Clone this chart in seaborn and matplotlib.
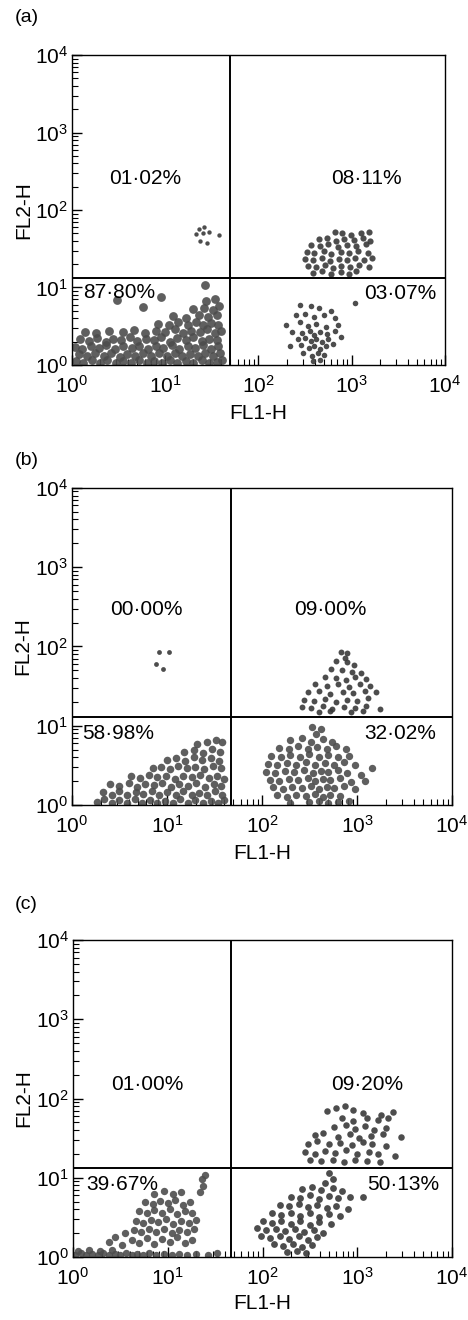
import pandas as pd
import seaborn as sns
import matplotlib.pyplot as plt
import numpy as np

# ==========================================
# 1. DATA (log10 units = decades)
# ==========================================
panel_tags = ['(a)', '(b)', '(c)']
x_label = 'FL1-H'
y_label = 'FL2-H'

# quadrant gates (FL1, FL2)
gate_fl1 = [49.0, 47.0, 47.0]
gate_fl2 = [13.3, 12.9, 13.2]

# quadrant percentages: upper-left, upper-right, lower-left, lower-right
quad_pct = [
    ['01·02%', '08·11%', '87·80%', '03·07%'],
    ['00·00%', '09·00%', '58·98%', '32·02%'],
    ['01·00%', '09·20%', '39·67%', '50·13%'],
]

# ---- panel (a) ----
a_ll = [
    (0.04, 0.05), (0.12, 0.02), (0.21, 0.07), (0.30, 0.03), (0.38, 0.06), (0.47, 0.02), (0.55, 0.05),
    (0.63, 0.03), (0.72, 0.07), (0.80, 0.02), (0.88, 0.05), (0.97, 0.03), (1.05, 0.06), (1.13, 0.02),
    (1.22, 0.05), (1.30, 0.03), (1.39, 0.06), (1.47, 0.02), (1.55, 0.04), (1.61, 0.07),
    (0.07, 0.14), (0.16, 0.11), (0.25, 0.16), (0.34, 0.12), (0.42, 0.15), (0.51, 0.10), (0.59, 0.14),
    (0.68, 0.12), (0.76, 0.16), (0.85, 0.11), (0.93, 0.15), (1.02, 0.12), (1.10, 0.16), (1.18, 0.11),
    (1.27, 0.14), (1.35, 0.12), (1.43, 0.16), (1.51, 0.11), (1.59, 0.15),
    (0.03, 0.23), (0.11, 0.21), (0.20, 0.25), (0.29, 0.22), (0.37, 0.26), (0.46, 0.21), (0.55, 0.24),
    (0.64, 0.22), (0.72, 0.25), (0.81, 0.20), (0.90, 0.24), (0.98, 0.22), (1.07, 0.26), (1.15, 0.21),
    (1.24, 0.25), (1.32, 0.22), (1.41, 0.26), (1.49, 0.21), (1.57, 0.24),
    (0.09, 0.33), (0.18, 0.31), (0.27, 0.35), (0.36, 0.30), (0.44, 0.34), (0.53, 0.32), (0.62, 0.36),
    (0.70, 0.31), (0.79, 0.34), (0.88, 0.32), (0.96, 0.36), (1.05, 0.30), (1.13, 0.35), (1.22, 0.32),
    (1.30, 0.36), (1.39, 0.31), (1.47, 0.34), (1.56, 0.32),
    (0.14, 0.43), (0.26, 0.41), (0.40, 0.44), (0.55, 0.42), (0.66, 0.45), (0.78, 0.41), (0.90, 0.44),
    (1.00, 0.42), (1.10, 0.46), (1.19, 0.41), (1.28, 0.44), (1.37, 0.42), (1.45, 0.46), (1.53, 0.41),
    (1.60, 0.44),
    (0.92, 0.53), (1.04, 0.51), (1.14, 0.55), (1.24, 0.52), (1.33, 0.56), (1.41, 0.51), (1.49, 0.54),
    (1.57, 0.52),
    (1.08, 0.63), (1.22, 0.61), (1.36, 0.65), (1.46, 0.62), (1.55, 0.64),
    (1.30, 0.72), (1.42, 0.74), (1.51, 0.71), (1.58, 0.76),
    (1.44, 0.83), (1.53, 0.85),
    (0.48, 0.84), (0.76, 0.75), (0.95, 0.88), (1.43, 1.03),
]
a_ul = [(1.36, 1.76), (1.42, 1.78), (1.33, 1.69), (1.40, 1.70), (1.47, 1.72), (1.58, 1.68),
        (1.37, 1.60), (1.45, 1.58)]
a_ur = [
    (2.82, 1.72), (2.90, 1.70), (2.99, 1.68), (3.10, 1.70), (3.19, 1.71),
    (2.65, 1.62), (2.74, 1.64), (2.83, 1.60), (2.92, 1.63), (3.02, 1.61), (3.12, 1.64), (3.20, 1.60),
    (2.56, 1.55), (2.66, 1.53), (2.75, 1.56), (2.85, 1.52), (2.95, 1.55), (3.05, 1.53), (3.15, 1.56),
    (2.52, 1.46), (2.60, 1.44), (2.70, 1.47), (2.78, 1.43), (2.88, 1.46), (2.97, 1.44), (3.07, 1.47),
    (3.17, 1.45),
    (2.50, 1.37), (2.58, 1.35), (2.68, 1.38), (2.77, 1.34), (2.86, 1.37), (2.95, 1.35), (3.04, 1.38),
    (3.13, 1.36), (3.22, 1.38),
    (2.53, 1.28), (2.62, 1.26), (2.71, 1.29), (2.80, 1.25), (2.89, 1.28), (2.98, 1.26), (3.08, 1.29),
    (3.18, 1.27),
    (2.58, 1.19), (2.68, 1.21), (2.78, 1.18), (2.88, 1.20), (2.97, 1.17), (3.05, 1.21),
]
a_lr = [
    (2.45, 0.78), (2.56, 0.76), (2.65, 0.74), (2.78, 0.70), (3.03, 0.80),
    (2.40, 0.64), (2.50, 0.66), (2.60, 0.62), (2.70, 0.65), (2.82, 0.60),
    (2.30, 0.52), (2.44, 0.55), (2.53, 0.50), (2.62, 0.53), (2.72, 0.49), (2.85, 0.52),
    (2.36, 0.43), (2.47, 0.41), (2.55, 0.44), (2.60, 0.39), (2.66, 0.42), (2.74, 0.40), (2.82, 0.44),
    (2.42, 0.33), (2.50, 0.35), (2.56, 0.31), (2.62, 0.34), (2.68, 0.30), (2.75, 0.33), (2.88, 0.36),
    (2.34, 0.24), (2.46, 0.26), (2.54, 0.22), (2.60, 0.25), (2.66, 0.21), (2.72, 0.24), (2.80, 0.27),
    (2.48, 0.15), (2.57, 0.12), (2.64, 0.16), (2.70, 0.13), (2.58, 0.05), (2.66, 0.07),
]

# ---- panel (b) ----
b_ll = [
    (0.26, 0.04), (0.34, 0.08), (0.42, 0.03), (0.50, 0.06), (0.58, 0.02), (0.66, 0.07), (0.74, 0.03),
    (0.82, 0.06), (0.90, 0.02), (0.98, 0.05), (1.06, 0.03), (1.14, 0.07), (1.22, 0.02), (1.30, 0.06),
    (1.38, 0.03), (1.46, 0.05), (1.54, 0.02), (1.60, 0.06),
    (0.33, 0.16), (0.42, 0.13), (0.50, 0.17), (0.58, 0.12), (0.67, 0.16), (0.75, 0.14), (0.84, 0.17),
    (0.92, 0.12), (1.00, 0.16), (1.09, 0.13), (1.17, 0.17), (1.26, 0.12), (1.34, 0.15), (1.42, 0.13),
    (1.51, 0.17), (1.58, 0.12),
    (0.40, 0.26), (0.50, 0.24), (0.60, 0.28), (0.68, 0.23), (0.77, 0.27), (0.86, 0.25), (0.95, 0.28),
    (1.04, 0.23), (1.13, 0.27), (1.22, 0.24), (1.31, 0.28), (1.40, 0.23), (1.49, 0.26), (1.57, 0.24),
    (0.62, 0.36), (0.72, 0.34), (0.81, 0.38), (0.90, 0.35), (0.99, 0.37), (1.08, 0.33), (1.17, 0.37),
    (1.26, 0.35), (1.35, 0.38), (1.44, 0.34), (1.53, 0.36), (1.60, 0.33),
    (0.85, 0.46), (0.94, 0.48), (1.03, 0.45), (1.12, 0.49), (1.21, 0.46), (1.30, 0.48), (1.39, 0.45),
    (1.48, 0.49), (1.57, 0.46),
    (1.00, 0.57), (1.10, 0.59), (1.19, 0.56), (1.28, 0.60), (1.37, 0.57), (1.46, 0.59), (1.55, 0.56),
    (1.18, 0.67), (1.28, 0.69), (1.38, 0.66), (1.47, 0.70), (1.56, 0.67),
    (1.32, 0.77), (1.42, 0.79), (1.52, 0.82), (1.58, 0.80),
]
b_ul = [(0.92, 1.93), (1.02, 1.93), (0.88, 1.78), (0.96, 1.72)]
b_ur = [
    (2.83, 1.93), (2.90, 1.92), (2.87, 1.86),
    (2.78, 1.82), (2.90, 1.80), (2.97, 1.77),
    (2.73, 1.72), (2.84, 1.70), (2.95, 1.68), (3.04, 1.66),
    (2.66, 1.62), (2.78, 1.60), (2.88, 1.58), (2.98, 1.61), (3.10, 1.59),
    (2.56, 1.52), (2.68, 1.50), (2.80, 1.53), (2.92, 1.49), (3.03, 1.52), (3.14, 1.50),
    (2.48, 1.42), (2.60, 1.44), (2.72, 1.40), (2.85, 1.43), (2.96, 1.41), (3.08, 1.44), (3.20, 1.42),
    (2.44, 1.33), (2.55, 1.31), (2.66, 1.34), (2.78, 1.30), (2.90, 1.33), (3.00, 1.31), (3.12, 1.35),
    (2.42, 1.24), (2.52, 1.22), (2.64, 1.25), (2.74, 1.21), (2.86, 1.24), (2.98, 1.22), (3.10, 1.25),
    (3.24, 1.21),
    (2.60, 1.17), (2.72, 1.18), (2.94, 1.17), (3.06, 1.18),
]
b_lr = [
    (2.53, 0.98), (2.62, 0.96), (2.57, 0.90),
    (2.30, 0.82), (2.42, 0.84), (2.52, 0.80), (2.64, 0.83), (2.74, 0.79),
    (2.18, 0.72), (2.28, 0.70), (2.38, 0.74), (2.48, 0.71), (2.58, 0.73), (2.68, 0.70), (2.78, 0.74),
    (2.88, 0.71),
    (2.10, 0.62), (2.20, 0.60), (2.30, 0.63), (2.40, 0.61), (2.50, 0.64), (2.60, 0.60), (2.70, 0.63),
    (2.80, 0.61), (2.92, 0.62),
    (2.06, 0.52), (2.16, 0.50), (2.26, 0.53), (2.36, 0.51), (2.46, 0.54), (2.56, 0.50), (2.66, 0.53),
    (2.76, 0.51), (2.86, 0.54), (2.98, 0.50), (3.16, 0.47),
    (2.04, 0.42), (2.14, 0.40), (2.24, 0.43), (2.34, 0.41), (2.44, 0.44), (2.54, 0.40), (2.62, 0.43),
    (2.70, 0.41), (2.80, 0.44), (2.90, 0.40), (3.04, 0.38),
    (2.08, 0.32), (2.18, 0.30), (2.28, 0.33), (2.38, 0.31), (2.48, 0.34), (2.56, 0.30), (2.64, 0.33),
    (2.72, 0.31), (2.82, 0.34), (2.94, 0.29), (3.08, 0.30),
    (2.12, 0.22), (2.22, 0.20), (2.32, 0.23), (2.42, 0.21), (2.52, 0.24), (2.60, 0.20), (2.68, 0.23),
    (2.76, 0.21), (2.86, 0.24), (2.98, 0.20),
    (2.16, 0.12), (2.26, 0.10), (2.36, 0.13), (2.46, 0.11), (2.56, 0.14), (2.64, 0.10), (2.72, 0.13),
    (2.82, 0.11), (2.92, 0.05),
    (2.30, 0.03), (2.50, 0.04), (2.60, 0.05), (2.70, 0.03), (2.80, 0.04),
]

# ---- panel (c) ----
c_ll = [
    (0.02, 0.03), (0.08, 0.05), (0.14, 0.02), (0.20, 0.04), (0.26, 0.03), (0.32, 0.05), (0.38, 0.02),
    (0.44, 0.04), (0.50, 0.03), (0.56, 0.05), (0.62, 0.02), (0.68, 0.04), (0.74, 0.03), (0.80, 0.05),
    (0.88, 0.03), (0.96, 0.04), (1.04, 0.02), (1.12, 0.04), (1.20, 0.03), (1.30, 0.04), (1.42, 0.03),
    (1.52, 0.05),
    (0.05, 0.08), (0.17, 0.09), (0.29, 0.08), (0.41, 0.09),
    (0.38, 0.19), (0.44, 0.25), (0.52, 0.15), (0.55, 0.30),
    (0.62, 0.22), (0.70, 0.18), (0.78, 0.24), (0.86, 0.17), (0.94, 0.23), (1.02, 0.19), (1.10, 0.25),
    (1.18, 0.18), (1.26, 0.22),
    (0.64, 0.34), (0.72, 0.31), (0.80, 0.36), (0.88, 0.32), (0.96, 0.35), (1.04, 0.30), (1.12, 0.34),
    (1.20, 0.31), (1.28, 0.35),
    (0.66, 0.46), (0.74, 0.43), (0.82, 0.47), (0.90, 0.44), (0.98, 0.48), (1.06, 0.42), (1.14, 0.46),
    (1.22, 0.43), (1.30, 0.47),
    (0.70, 0.58), (0.78, 0.55), (0.86, 0.59), (0.94, 0.56), (1.02, 0.60), (1.10, 0.54), (1.18, 0.58),
    (1.26, 0.55),
    (0.76, 0.70), (0.84, 0.67), (0.92, 0.71), (1.00, 0.68), (1.08, 0.72), (1.16, 0.66), (1.24, 0.70),
    (0.86, 0.80), (0.96, 0.83), (1.06, 0.79), (1.14, 0.82),
    (1.34, 0.82), (1.37, 0.90), (1.36, 0.98), (1.39, 1.03),
]
c_ur = [
    (2.68, 1.84), (2.78, 1.88), (2.87, 1.91), (2.95, 1.86), (3.06, 1.82), (3.25, 1.79), (3.38, 1.83),
    (2.84, 1.76), (2.96, 1.72), (3.10, 1.75), (3.22, 1.73), (3.32, 1.76),
    (2.75, 1.64), (2.88, 1.66), (2.98, 1.62), (3.08, 1.65), (3.18, 1.60), (3.30, 1.63),
    (2.55, 1.54), (2.64, 1.56), (2.80, 1.52), (2.92, 1.55), (3.02, 1.50), (3.14, 1.53), (3.27, 1.55),
    (3.46, 1.52),
    (2.48, 1.43), (2.58, 1.46), (2.70, 1.42), (2.82, 1.44), (2.94, 1.41), (3.06, 1.45), (3.16, 1.42),
    (3.30, 1.40),
    (2.45, 1.33), (2.55, 1.30), (2.66, 1.34), (2.76, 1.31), (2.88, 1.35), (3.00, 1.30), (3.12, 1.33),
    (3.22, 1.30), (3.40, 1.28),
    (2.50, 1.22), (2.62, 1.21), (2.74, 1.23), (2.86, 1.20), (2.98, 1.22), (3.10, 1.21), (3.24, 1.20),
]
c_lr = [
    (2.70, 1.06), (2.74, 0.98), (2.66, 0.93),
    (2.42, 0.86), (2.52, 0.88), (2.62, 0.84), (2.74, 0.87), (2.84, 0.83),
    (2.30, 0.76), (2.40, 0.74), (2.50, 0.78), (2.60, 0.73), (2.70, 0.77), (2.80, 0.74), (2.92, 0.76),
    (3.06, 0.76),
    (2.18, 0.66), (2.28, 0.64), (2.38, 0.67), (2.48, 0.63), (2.58, 0.66), (2.68, 0.62), (2.78, 0.65),
    (2.90, 0.61),
    (2.10, 0.55), (2.20, 0.53), (2.30, 0.56), (2.40, 0.52), (2.50, 0.55), (2.60, 0.51), (2.70, 0.54),
    (2.82, 0.52),
    (2.00, 0.45), (2.10, 0.43), (2.20, 0.46), (2.30, 0.42), (2.40, 0.45), (2.50, 0.41), (2.60, 0.44),
    (2.72, 0.42),
    (1.94, 0.37), (2.04, 0.34), (2.14, 0.36), (2.24, 0.33), (2.34, 0.35), (2.44, 0.31), (2.54, 0.34),
    (2.64, 0.30),
    (1.98, 0.26), (2.08, 0.24), (2.18, 0.27), (2.28, 0.23), (2.38, 0.26), (2.48, 0.22), (2.58, 0.25),
    (2.12, 0.16), (2.22, 0.14), (2.32, 0.17), (2.42, 0.13), (2.52, 0.15),
    (2.26, 0.06), (2.36, 0.08), (2.46, 0.05),
]

panel_clusters = [
    {'LL': a_ll, 'UL': a_ul, 'UR': a_ur, 'LR': a_lr},
    {'LL': b_ll, 'UL': b_ul, 'UR': b_ur, 'LR': b_lr},
    {'LL': c_ll, 'UR': c_ur, 'LR': c_lr},
]

# ==========================================
# 2. STYLING
# ==========================================
sns.set_style('white')
plt.rcParams.update({
    'font.family': ['Liberation Sans', 'DejaVu Sans'],
    'mathtext.default': 'regular',
    'axes.edgecolor': 'black', 'axes.linewidth': 1.0,
    'xtick.color': 'black', 'ytick.color': 'black',
    'text.color': 'black', 'axes.labelcolor': 'black',
})

dot_color = '#3a3a3a'
# marker area per panel / quadrant (dense clouds get bigger, lighter dots)
dot_size = [
    {'LL': 40, 'UL': 10, 'UR': 20, 'LR': 16},
    {'LL': 30, 'UL': 12, 'UR': 18, 'LR': 28},
    {'LL': 28, 'UR': 22, 'LR': 24},
]
dense_color = '#4d4d4d'

# axes boxes in figure fractions [left, bottom, width, height]
ax_boxes = [
    [0.1538, 0.7235, 0.7970, 0.2348],
    [0.1538, 0.3902, 0.8120, 0.2402],
    [0.1560, 0.0477, 0.8098, 0.2402],
]
tag_y = [0.987, 0.651, 0.315]
xlabel_off = [-0.125, -0.122, -0.118]
# percentage label positions (FL1, FL2) per quadrant
pct_pos = [
    [(10**0.78, 10**2.41), (10**3.16, 10**2.41), (10**0.51, 10**0.93), (10**3.52, 10**0.92)],
    [(10**0.78, 10**2.47), (10**2.72, 10**2.47), (10**0.49, 10**0.90), (10**3.45, 10**0.90)],
    [(10**0.78, 10**2.18), (10**3.10, 10**2.18), (10**0.52, 10**0.91), (10**3.48, 10**0.91)],
]

fig = plt.figure(figsize=(4.68, 13.2), dpi=100)

# ==========================================
# 3. PLOT CONSTRUCTION
# ==========================================
for i, clusters in enumerate(panel_clusters):
    ax = fig.add_axes(ax_boxes[i])
    for quad, pts in clusters.items():
        df = pd.DataFrame(pts, columns=['lx', 'ly'])
        df['FL1'] = 10 ** df['lx']
        df['FL2'] = 10 ** df['ly']
        col = dense_color if dot_size[i][quad] >= 28 else dot_color
        sns.scatterplot(data=df, x='FL1', y='FL2', ax=ax, color=col,
                        s=dot_size[i][quad], linewidth=0, alpha=0.9, zorder=2)

    ax.set_xscale('log')
    ax.set_yscale('log')
    ax.set_xlim(1, 1e4)
    ax.set_ylim(1, 1e4)

    # quadrant gates
    ax.axvline(gate_fl1[i], color='black', lw=1.4, zorder=3)
    ax.axhline(gate_fl2[i], color='black', lw=1.4, zorder=3)

    for txt, (px, py) in zip(quad_pct[i], pct_pos[i]):
        ax.text(px, py, txt, ha='center', va='center', fontsize=15, zorder=4)

    ax.tick_params(which='both', direction='in', bottom=True, left=True,
                   top=False, right=False, labelsize=15)
    ax.tick_params(axis='x', which='major', pad=7)
    ax.tick_params(axis='y', which='major', pad=3)
    ax.tick_params(which='major', length=7, width=1)
    ax.tick_params(which='minor', length=4, width=0.8)

    ax.set_xlabel(x_label, fontsize=15)
    ax.set_ylabel(y_label, fontsize=15)
    ax.xaxis.set_label_coords(0.5, xlabel_off[i])
    ax.yaxis.set_label_coords(-0.105, 0.5)
    for sp in ax.spines.values():
        sp.set_visible(True)
        sp.set_color('black')

    fig.text(0.032, tag_y[i], panel_tags[i], fontsize=14, ha='left', va='center')

plt.savefig('out.png', dpi=100)
